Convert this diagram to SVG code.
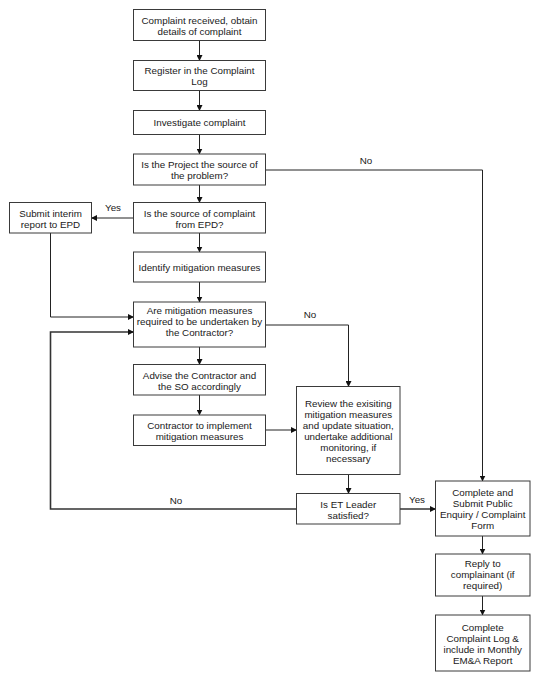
<svg xmlns="http://www.w3.org/2000/svg" width="535" height="678" viewBox="0 0 535 678">
<style>
.box{fill:#fff;stroke:#3a3a3a;stroke-width:1}
text{font-family:"Liberation Sans",Arial,sans-serif;font-size:9.8px;fill:#1a1a1a;text-anchor:middle}
.c{fill:none;stroke:#222;stroke-width:1}
.t{fill:none;stroke:#333;stroke-width:1.6}
</style>
<defs>
<marker id="a" markerWidth="6" markerHeight="6" refX="5.5" refY="3" orient="auto" markerUnits="userSpaceOnUse">
<path d="M0,0 L6,3 L0,6 Z" fill="#111"/>
</marker>
</defs>
<rect width="535" height="678" fill="#fff"/>
<g id="connectors">
<path class="c" d="M199.5,40.5 V60.5" marker-end="url(#a)"/>
<path class="c" d="M199.5,90.5 V110.5" marker-end="url(#a)"/>
<path class="c" d="M199.5,134.5 V154" marker-end="url(#a)"/>
<path class="c" d="M199.5,185 V202.5" marker-end="url(#a)"/>
<path class="c" d="M265.5,170 H482.5 V481" marker-end="url(#a)"/>
<path class="c" d="M133.5,218 H91.5" marker-end="url(#a)"/>
<path class="c" d="M199.5,233 V252" marker-end="url(#a)"/>
<path class="c" d="M199.5,282 V302" marker-end="url(#a)"/>
<path class="c" d="M50.5,233 V317 H133.5" marker-end="url(#a)"/>
<path class="c" d="M265.5,325 H348.5 V386.5" marker-end="url(#a)"/>
<path class="c" d="M199.5,347 V364.5" marker-end="url(#a)"/>
<path class="c" d="M199.5,395 V415" marker-end="url(#a)"/>
<path class="c" d="M265.5,430 H296.5" marker-end="url(#a)"/>
<path class="c" d="M348.5,474.5 V493.5" marker-end="url(#a)"/>
<path class="t" d="M400,509 H435.5" marker-end="url(#a)"/>
<path class="t" d="M296.5,509 H50.5 V332 H133.5" marker-end="url(#a)"/>
<path class="c" d="M482.5,536 V554" marker-end="url(#a)"/>
<path class="c" d="M482.5,596 V615" marker-end="url(#a)"/>
<text x="366" y="164">No</text>
<text x="113" y="211">Yes</text>
<text x="310" y="318">No</text>
<text x="417" y="503">Yes</text>
<text x="176" y="504">No</text>
</g>
<g id="n1"><rect class="box" x="133.5" y="9.5" width="132" height="31"/><text x="199.5" y="23.5">Complaint received, obtain</text><text x="199.5" y="34.5">details of complaint</text></g>
<g id="n2"><rect class="box" x="133.5" y="60.5" width="132" height="30"/><text x="199.5" y="74">Register in the Complaint</text><text x="199.5" y="85">Log</text></g>
<g id="n3"><rect class="box" x="133.5" y="110.5" width="132" height="24"/><text x="199.5" y="126">Investigate complaint</text></g>
<g id="n4"><rect class="box" x="133.5" y="154" width="132" height="31"/><text x="199.5" y="168">Is the Project the source of</text><text x="199.5" y="179">the problem?</text></g>
<g id="n5"><rect class="box" x="133.5" y="202.5" width="132" height="30.5"/><text x="199.5" y="216.5">Is the source of complaint</text><text x="199.5" y="227.5">from EPD?</text></g>
<g id="n6"><rect class="box" x="9.5" y="202.5" width="82" height="30.5"/><text x="50.5" y="216.5">Submit interim</text><text x="50.5" y="227.5">report to EPD</text></g>
<g id="n7"><rect class="box" x="133.5" y="252" width="132" height="30"/><text x="199.5" y="271">Identify mitigation measures</text></g>
<g id="n8"><rect class="box" x="133.5" y="302" width="132" height="45"/><text x="199.5" y="313.5">Are mitigation measures</text><text x="199.5" y="324.5">required to be undertaken by</text><text x="199.5" y="335.5">the Contractor?</text></g>
<g id="n9"><rect class="box" x="133.5" y="364.5" width="132" height="30.5"/><text x="199.5" y="378.5">Advise the Contractor and</text><text x="199.5" y="389.5">the SO accordingly</text></g>
<g id="n10"><rect class="box" x="133.5" y="415" width="132" height="30.5"/><text x="199.5" y="429">Contractor to implement</text><text x="199.5" y="440">mitigation measures</text></g>
<g id="n11"><rect class="box" x="296.5" y="386.5" width="103.5" height="88"/><text x="348.3" y="406.5">Review the exisiting</text><text x="348.3" y="417.5">mitigation measures</text><text x="348.3" y="428.5">and update situation,</text><text x="348.3" y="439.5">undertake additional</text><text x="348.3" y="450.5">monitoring, if</text><text x="348.3" y="461.5">necessary</text></g>
<g id="n12"><rect class="box" x="296.5" y="493.5" width="103.5" height="30.5"/><text x="348.3" y="507.5">Is ET Leader</text><text x="348.3" y="518.5">satisfied?</text></g>
<g id="n13"><rect class="box" x="435.5" y="481" width="94.5" height="55"/><text x="482.7" y="496">Complete and</text><text x="482.7" y="507">Submit Public</text><text x="482.7" y="518">Enquiry / Complaint</text><text x="482.7" y="529">Form</text></g>
<g id="n14"><rect class="box" x="435.5" y="554" width="94.5" height="42"/><text x="482.7" y="567">Reply to</text><text x="482.7" y="578">complainant (if</text><text x="482.7" y="589">required)</text></g>
<g id="n15"><rect class="box" x="435.5" y="615" width="94.5" height="56"/><text x="482.7" y="630.5">Complete</text><text x="482.7" y="641.5">Complaint Log &amp;</text><text x="482.7" y="652.5">include in Monthly</text><text x="482.7" y="663.5">EM&amp;A Report</text></g>
</svg>
